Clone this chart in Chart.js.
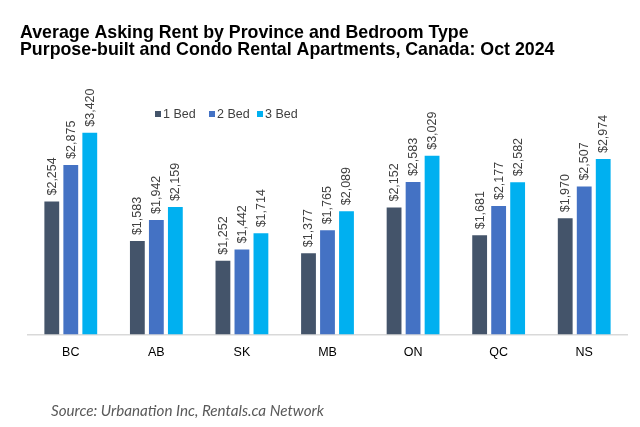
<!DOCTYPE html>
<html>
<head>
<meta charset="utf-8">
<script src="https://cdn.jsdelivr.net/npm/chart.js@4"></script>
<style>
html,body{margin:0;padding:0;background:#fff;}
#wrap{width:640px;height:427px;position:relative;}
</style>
</head>
<body>
<div id="wrap"><canvas id="c" width="640" height="427"></canvas></div>
<script>
const provinces = ["BC","AB","SK","MB","ON","QC","NS"];
const seriesNames = ["1 Bed","2 Bed","3 Bed"];
const bed1 = [2254,1583,1252,1377,2152,1681,1970];
const bed2 = [2875,1942,1442,1765,2583,2177,2507];
const bed3 = [3420,2159,1714,2089,3029,2582,2974];
const colors = ["#44546A","#4472C4","#00B0F0"];
const titleLines = ["Average Asking Rent by Province and Bedroom Type","Purpose-built and Condo Rental Apartments, Canada: Oct 2024"];
const sourceText = "Source: Urbanation Inc, Rentals.ca Network";

const fmt = v => "$" + v.toLocaleString("en-US");

const decor = {
  id: "decor",
  afterDraw(chart) {
    const ctx = chart.ctx;
    ctx.save();
    // title
    ctx.fillStyle = "#000";
    ctx.font = "bold 17.8px 'Liberation Sans', Arial, sans-serif";
    ctx.textAlign = "left";
    ctx.textBaseline = "alphabetic";
    ctx.fillText(titleLines[0], 20, 38);
    ctx.fillText(titleLines[1], 20, 55);
    // legend
    const lx = [155, 209, 257];
    ctx.font = "12.5px 'Liberation Sans', Arial, sans-serif";
    ctx.textBaseline = "middle";
    chart.data.datasets.forEach((ds, i) => {
      ctx.fillStyle = ds.backgroundColor;
      ctx.fillRect(lx[i], 111, 6, 6);
      ctx.fillStyle = "#404040";
      ctx.fillText(ds.label, lx[i] + 8, 114.5);
    });
    // data labels
    ctx.font = "12.5px 'Liberation Sans', Arial, sans-serif";
    ctx.fillStyle = "#404040";
    chart.data.datasets.forEach((ds, i) => {
      const meta = chart.getDatasetMeta(i);
      meta.data.forEach((el, j) => {
        ctx.save();
        ctx.translate(el.x + 0.5, el.y - 6);
        ctx.rotate(-Math.PI / 2);
        ctx.textAlign = "left";
        ctx.textBaseline = "middle";
        ctx.fillText(fmt(ds.data[j]), 0, 0);
        ctx.restore();
      });
    });
    // source
    ctx.font = "italic 15.2px Lato, 'Open Sans', sans-serif";
    ctx.fillStyle = "#595959";
    ctx.textAlign = "left";
    ctx.textBaseline = "alphabetic";
    ctx.fillText(sourceText, 51, 416);
    ctx.restore();
  }
};

new Chart(document.getElementById("c"), {
  type: "bar",
  data: {
    labels: provinces,
    datasets: [
      {label: seriesNames[0], data: bed1, backgroundColor: colors[0]},
      {label: seriesNames[1], data: bed2, backgroundColor: colors[1]},
      {label: seriesNames[2], data: bed3, backgroundColor: colors[2]}
    ]
  },
  options: {
    responsive: false,
    animation: false,
    devicePixelRatio: 1,
    layout: {padding: {left: 28, right: 13, top: 98.5, bottom: 0}},
    datasets: {bar: {categoryPercentage: 0.666, barPercentage: 0.78}},
    plugins: {legend: {display: false}, tooltip: {enabled: false}, title: {display: false}},
    scales: {
      x: {
        grid: {display: false, drawTicks: false},
        border: {display: true, color: "#D9D9D9", width: 1.5},
        ticks: {color: "#000", font: {family: "'Liberation Sans', Arial, sans-serif", size: 12.5}, padding: 10.5},
        afterFit: s => { s.height = 92.5; }
      },
      y: {display: false, min: 0, max: 4000}
    }
  },
  plugins: [decor]
});
</script>
</body>
</html>
